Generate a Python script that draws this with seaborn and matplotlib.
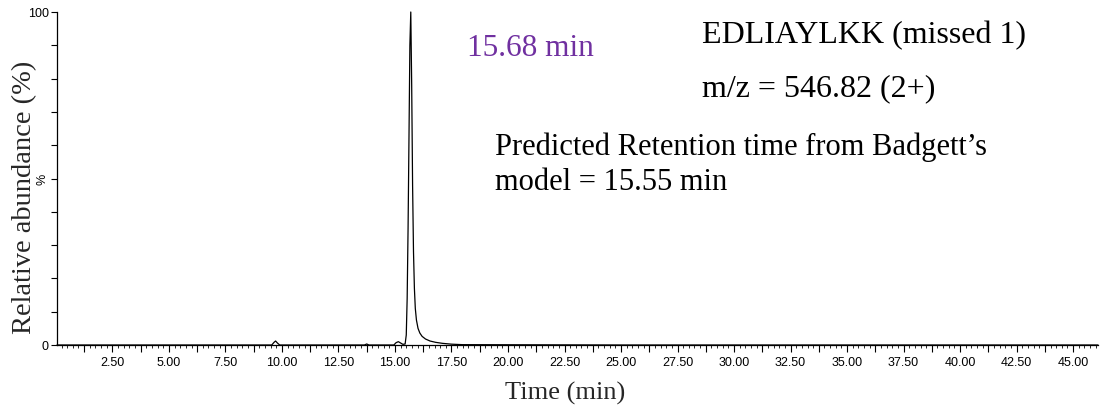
import matplotlib
matplotlib.use("Agg")
import matplotlib.pyplot as plt
import seaborn as sns
import numpy as np
import pandas as pd
from matplotlib.ticker import MultipleLocator, FixedLocator, FuncFormatter

# ---- data ----
time_min = [0.05, 5.0, 9.55, 9.65, 9.72, 9.80, 9.90, 13.65, 13.75, 13.85,
            14.95, 15.05, 15.15, 15.25, 15.35, 15.45, 15.50, 15.54, 15.58,
            15.62, 15.66, 15.70, 15.74, 15.78, 15.82, 15.86, 15.90, 15.95,
            16.02, 16.10, 16.20, 16.35, 16.55, 16.80, 17.10, 17.50, 18.00,
            25.0, 35.0, 46.1]
rel_abundance = [0.0, 0.0, 0.0, 0.8, 1.2, 0.6, 0.0, 0.0, 0.3, 0.0,
                 0.0, 0.7, 1.0, 0.6, 0.2, 0.3, 3.0, 14.0, 35.0,
                 62.0, 90.0, 100.0, 78.0, 48.0, 28.0, 17.0, 11.0, 7.5,
                 5.0, 3.6, 2.6, 1.8, 1.2, 0.8, 0.5, 0.25, 0.1,
                 0.0, 0.0, 0.0]

y_tick_values = [0, 10, 20, 30, 40, 50, 60, 70, 80, 90, 100]
y_tick_labels = ["0", "", "", "", "", "%", "", "", "", "", "100"]

peak_label = "15.68 min"
peptide_label = "EDLIAYLKK (missed 1)"
mz_label = "m/z = 546.82 (2+)"
pred_line1 = "Predicted Retention time from Badgett\u2019s"
pred_line2 = "model = 15.55 min"

df = pd.DataFrame({"Time (min)": time_min, "Relative abundance (%)": rel_abundance})

sns.set_style("ticks")
plt.rcParams["font.family"] = ["Liberation Sans", "DejaVu Sans"]

W, H = 1101, 406
fig = plt.figure(figsize=(W / 100, H / 100), dpi=100)
ax_l, ax_r, ax_b, ax_t = 57, 1098, 346, 13
ax = fig.add_axes([ax_l / W, 1 - ax_b / H, (ax_r - ax_l) / W, (ax_b - ax_t) / H])

sns.lineplot(data=df, x="Time (min)", y="Relative abundance (%)", ax=ax,
             color="black", linewidth=0.9, sort=True)
for ln in ax.lines:
    ln.set_clip_on(False)

ax.set_xlim(0.05, 46.1)
ax.set_ylim(0, 100)

# x ticks
ax.xaxis.set_major_locator(MultipleLocator(1.25))
ax.xaxis.set_minor_locator(MultipleLocator(0.25))
def xfmt(v, pos):
    if v > 0.1 and abs(v / 2.5 - round(v / 2.5)) < 1e-6:
        return f"{v:.2f}"
    return ""
ax.xaxis.set_major_formatter(FuncFormatter(xfmt))
ax.tick_params(axis="x", which="major", length=5, width=0.8, pad=3, labelsize=9, colors="black")
ax.tick_params(axis="x", which="minor", length=2.5, width=0.7)

# y ticks
ax.yaxis.set_major_locator(FixedLocator(y_tick_values))
ax.set_yticklabels(y_tick_labels)
ax.tick_params(axis="y", which="major", length=4, width=0.8, pad=2, labelsize=9, colors="black")
for t in ax.get_yticklabels():
    if t.get_text() == "%":
        t.set_rotation(90)
        t.set_va("center")

sns.despine(ax=ax, top=True, right=True)
for s in ["left", "bottom"]:
    ax.spines[s].set_linewidth(0.9)
    ax.spines[s].set_color("black")

serif = ["Liberation Serif", "DejaVu Serif"]
aw, ah = ax_r - ax_l, ax_b - ax_t
ax.set_xlabel("Time (min)", fontsize=19, family=serif)
ax.xaxis.set_label_coords((565 - ax_l) / aw, (ax_b - 382) / ah)
ax.set_ylabel("Relative abundance (%)", fontsize=20.5, family=serif)
ax.yaxis.set_label_coords((37 - ax_l) / aw, (ax_b - 197) / ah)

def ftext(x, y, s, **kw):
    fig.text(x / W, 1 - y / H, s, family=serif, va="baseline", ha="left", **kw)

ftext(467, 56, peak_label, fontsize=22.5, color="#7030A0")
ftext(702, 43, peptide_label, fontsize=23, color="black")
ftext(702, 96, mz_label, fontsize=23, color="black")
ftext(495, 155, pred_line1, fontsize=22, color="black")
ftext(495, 190, pred_line2, fontsize=22, color="black")

fig.savefig("out.png", dpi=100)
